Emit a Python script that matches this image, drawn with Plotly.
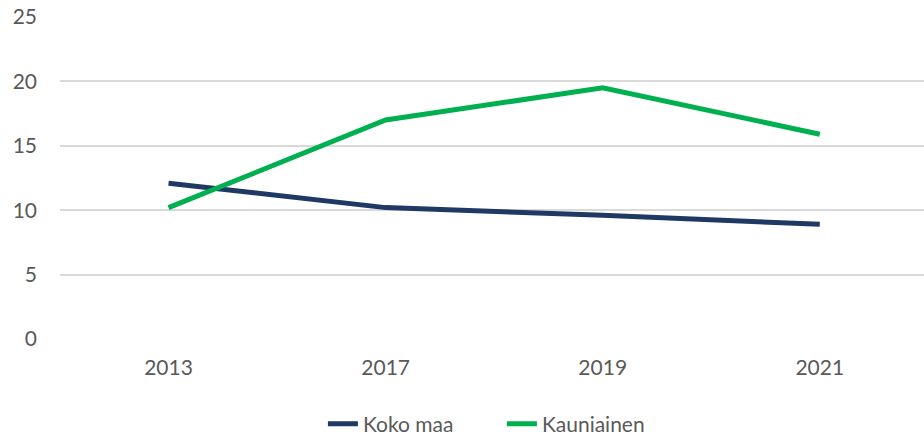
import plotly.graph_objects as go

years = ["2013", "2017", "2019", "2021"]
koko_maa = [12.1, 10.2, 9.6, 8.9]
kauniainen = [10.2, 17.0, 19.5, 15.9]
y_ticks = [0, 5, 10, 15, 20, 25]

FONT = "Lato, Open Sans, sans-serif"

fig = go.Figure()
fig.add_trace(go.Scatter(x=years, y=koko_maa, mode="lines", name="Koko maa",
                         line=dict(color="#1F3864", width=5)))
fig.add_trace(go.Scatter(x=years, y=kauniainen, mode="lines", name="Kauniainen",
                         line=dict(color="#00B050", width=5)))

fig.update_layout(
    width=924, height=438,
    margin=dict(l=60, r=0, t=17, b=99, autoexpand=False),
    plot_bgcolor="white", paper_bgcolor="white",
    font=dict(family=FONT, size=21, color="#595959"),
    showlegend=True,
    legend=dict(orientation="h", x=0.3043, xanchor="left", y=-0.264, yanchor="middle",
                font=dict(size=21, color="#595959"), tracegroupgap=0,
                entrywidth=134, entrywidthmode="pixels"),
    xaxis=dict(type="category", range=[-0.5, 3.48], showgrid=False, showline=False,
               zeroline=False, ticks="", ticklabelstandoff=14),
    yaxis=dict(range=[0, 25], tickvals=y_ticks, showgrid=True, gridcolor="#D9D9D9",
               gridwidth=1.5, zeroline=False, showline=False, ticks="",
               ticklabelstandoff=22, ticklabeloverflow="allow"),
)

fig.write_html("out.html",
               config={"displayModeBar": False},
               post_script="document.body.style.margin='0';document.body.style.overflow='hidden';")
